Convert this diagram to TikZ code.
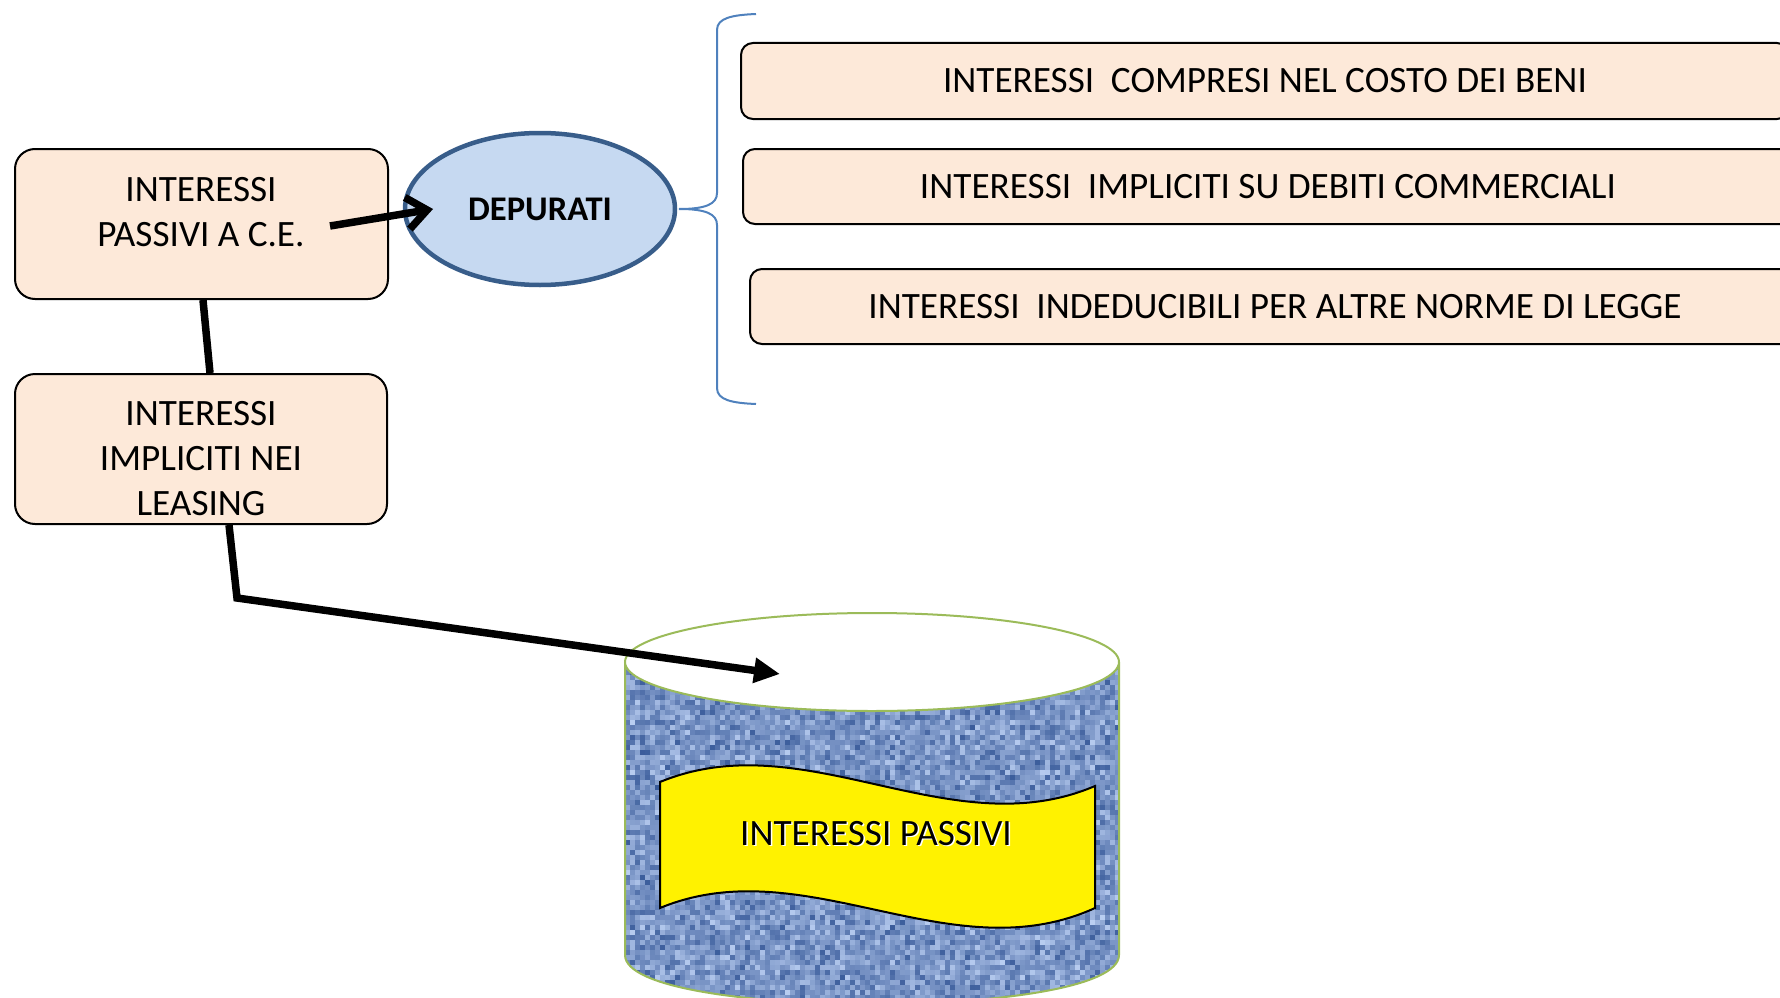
\documentclass[tikz,border=0pt]{standalone}
\usepackage{fontspec}
\setmainfont{Carlito}
\usetikzlibrary{arrows.meta,shapes.geometric,calc}

\definecolor{peach}{HTML}{FDE9D9}
\definecolor{ovalfill}{HTML}{C6D9F1}
\definecolor{ovaledge}{HTML}{385D8A}
\definecolor{bracecol}{HTML}{4F81BD}
\definecolor{olive}{HTML}{9BBB59}
\definecolor{denimLight}{HTML}{BCD0F3}
\definecolor{denimDark}{HTML}{385A99}
\definecolor{denimMid}{HTML}{7090CA}

\begin{document}
\begin{tikzpicture}[x=1pt,y=-1pt,
  txt/.style={inner sep=0pt, align=center, font=\fontsize{37.2}{45}\selectfont},
  peachbox/.style={draw=black, line width=2pt, fill=peach, rounded corners=20pt},
  listbox/.style={draw=black, line width=2pt, fill=peach, rounded corners=12pt,
    inner sep=0pt, font=\fontsize{37.2}{45}\selectfont},
  heavy/.style={line width=7.5pt, draw=black},
]
\useasboundingbox (0,0) rectangle (1780,998);
\clip (0,0) rectangle (1780,998);

% left column boxes
\node[peachbox, minimum width=373, minimum height=150] (ce) at (201.5,224) {};
\node[txt] (ceText) at (201,211.7) {INTERESSI\\PASSIVI A C.E.};
\node[peachbox, minimum width=372, minimum height=150] (lea) at (201,449) {};
\node[txt] (leaText) at (201,458.7) {INTERESSI\\IMPLICITI NEI\\LEASING};

% oval
\node[ellipse, draw=ovaledge, line width=4.5pt, fill=ovalfill,
      minimum width=270, minimum height=152, inner sep=0pt,
      font=\fontsize{34.6}{40}\selectfont\bfseries] (dep) at (540,209) {DEPURATI};

% list on the right
\node[listbox, minimum width=1048, minimum height=76] (beni) at (1265,81)
  {INTERESSI\ \ COMPRESI NEL COSTO DEI BENI};
\node[listbox, minimum width=1050, minimum height=75] (debiti) at (1268,186.5)
  {INTERESSI\ \ IMPLICITI SU DEBITI COMMERCIALI};
\node[listbox, minimum width=1050, minimum height=75] (norme) at (1275,306.5)
  {INTERESSI\ \ INDEDUCIBILI PER ALTRE NORME DI LEGGE};

% curly brace
\coordinate (braceTip) at (679,209);
\draw[bracecol, line width=2pt]
  (756,14) .. controls (732,15) and (717,18) .. (717,30)
  -- (717,193) .. controls (717,204) and (706,209) .. (braceTip)
  .. controls (706,209) and (717,214) .. (717,225)
  -- (717,388) .. controls (717,400) and (732,403) .. (756,404);

% connectors
\coordinate (ceTail) at (330,226);
\coordinate (depTip) at (433,209);
\draw[heavy, -{Straight Barb[length=20pt,width=32pt]}] (ceTail) -- (depTip);
\draw[heavy] ($(ce.south)+(1.5,0)$) -- ($(lea.north)+(9,0)$);

% cylinder body with woven texture
\begin{scope}
  \clip (625,662) -- (625,955) .. controls (625,1020.3) and (1119,1020.3) .. (1119,955)
        -- (1119,662) -- cycle;
  \fill[denimMid] (620,650) rectangle (1125,1010);
  \pgfmathsetseed{42}
  \foreach \i in {0,...,99}{
    \foreach \j in {0,...,69}{
      \pgfmathtruncatemacro\mixval{50*rnd+50*rnd}
      \fill[denimLight!\mixval!denimDark] (625+5*\i,660+5*\j) rectangle ++(5,5);
    }
  }
\end{scope}
\draw[olive, line width=2pt] (625,662) -- (625,955)
  .. controls (625,1020.3) and (1119,1020.3) .. (1119,955) -- (1119,662);
\draw[olive, line width=2pt, fill=white] (872,662) ellipse [x radius=247, y radius=49];

% banner
\draw[black, line width=2pt, fill=yellow]
  (660,782) .. controls (805,722) and (950,848) .. (1095,786)
  -- (1095,908) .. controls (950,974) and (805,848) .. (660,908) -- cycle;
\node[txt, text=white] (ipHalo) at (877.5,835) {INTERESSI PASSIVI};
\node[txt] (ip) at (876,833.5) {INTERESSI PASSIVI};

% arrow into the cylinder
\coordinate (bend) at (237,598);
\coordinate (cylTip) at (780,674);
\draw[heavy, -{Triangle[length=26pt,width=24pt]}]
  ($(lea.south)+(28,0)$) -- (bend) -- (cylTip);
\end{tikzpicture}
\end{document}
